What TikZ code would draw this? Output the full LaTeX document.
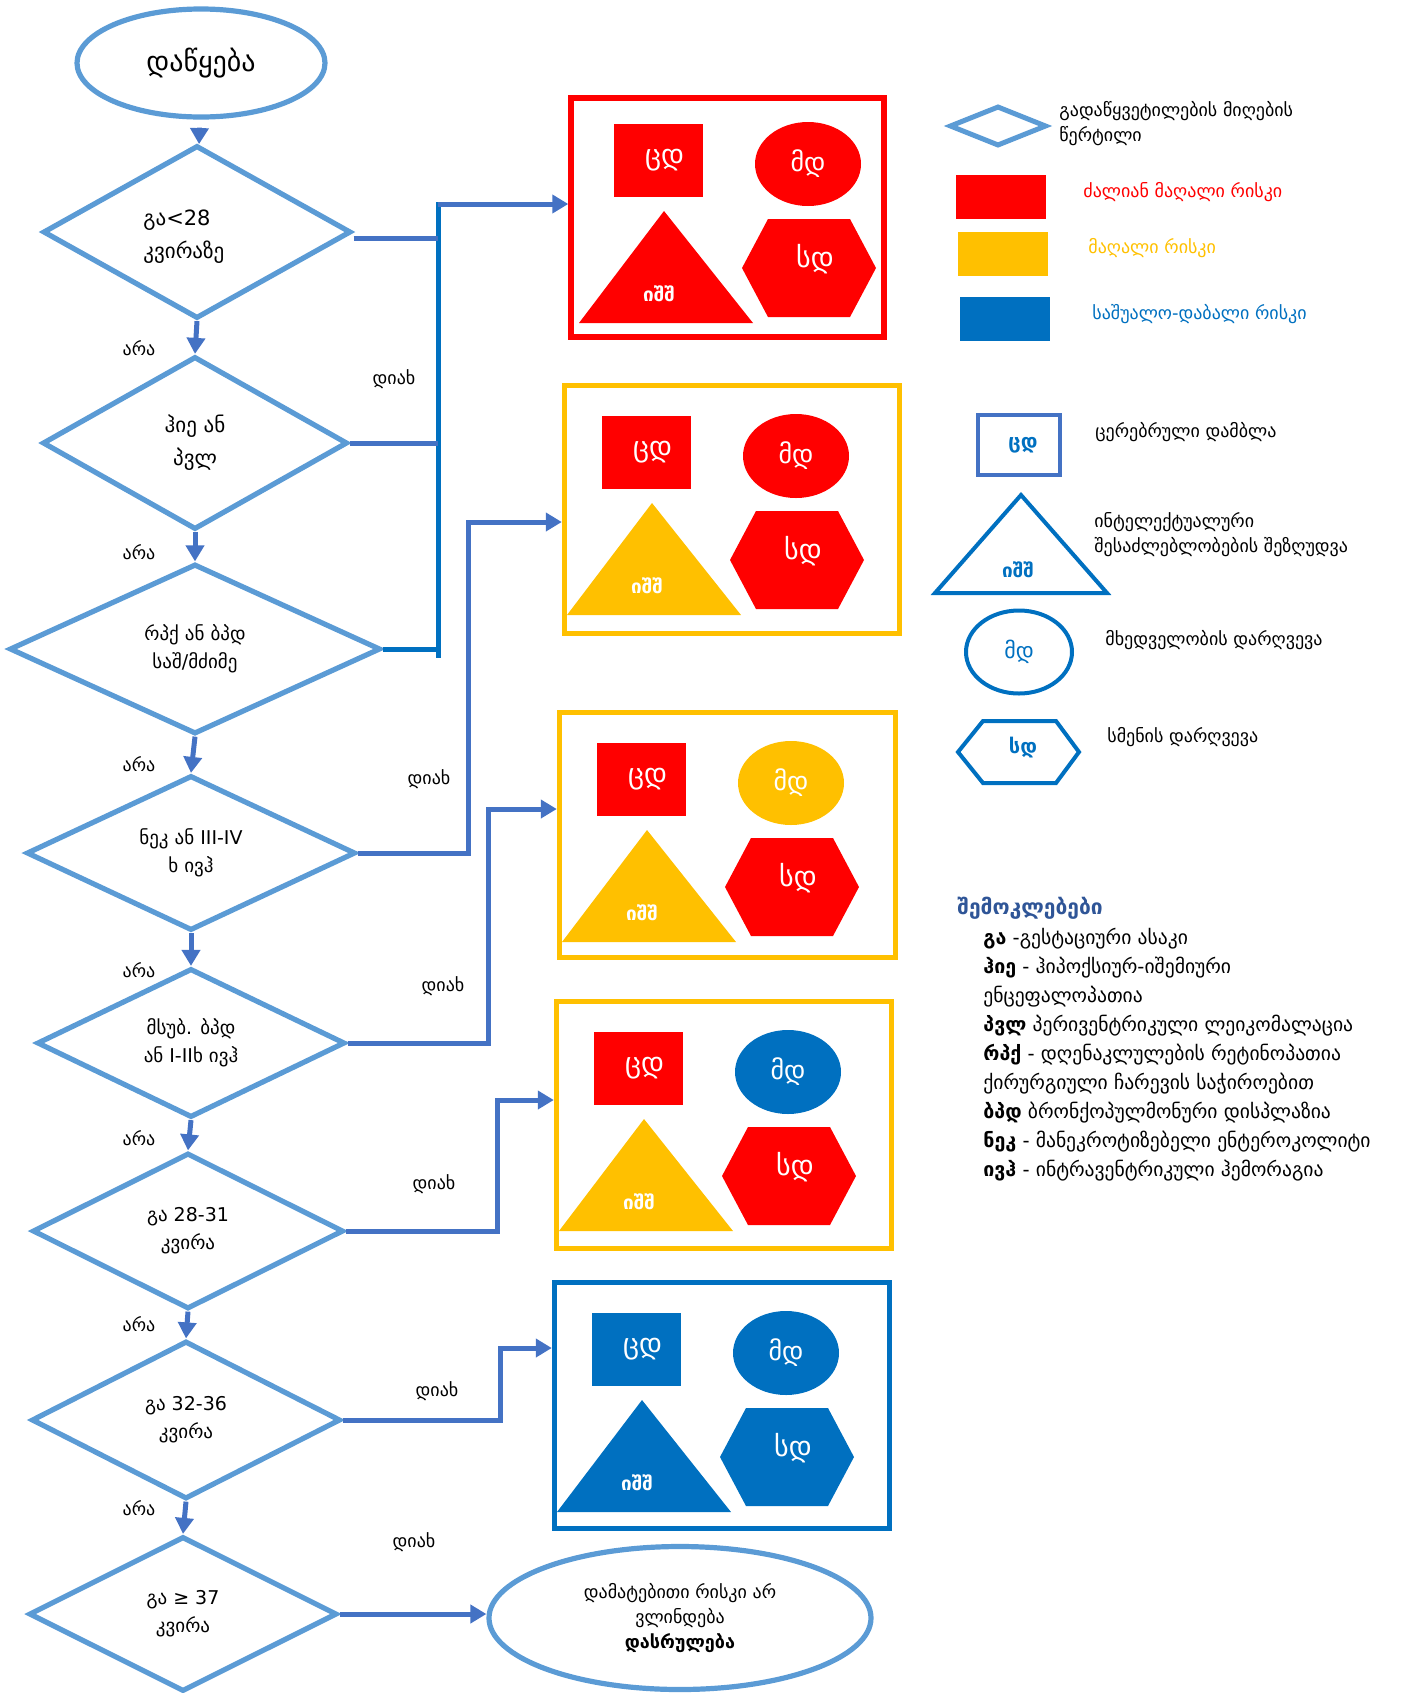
\documentclass[tikz,border=0pt]{standalone}
\usepackage{fontspec}
\setmainfont{DejaVu Sans}
\usetikzlibrary{shapes.geometric,arrows.meta}

\definecolor{flowline}{HTML}{5B9BD5}
\definecolor{linkblue}{HTML}{4472C4}
\definecolor{busblue}{HTML}{0070C0}
\definecolor{riskred}{HTML}{FF0000}
\definecolor{riskgold}{HTML}{FFC000}
\definecolor{riskblue}{HTML}{0070C0}
\definecolor{headblue}{HTML}{2F5597}

\tikzset{
  decision/.style={diamond, draw=flowline, line width=2.6pt, inner sep=0pt,
    align=center, font=\fontsize{9.5}{14}\selectfont},
  terminal/.style={ellipse, draw=flowline, line width=2.6pt, inner sep=0pt, align=center},
  flow/.style={draw=linkblue, line width=2.5pt, -{Triangle[length=8pt,width=9pt]}},
  branch/.style={draw=linkblue, line width=2.5pt},
  answer/.style={font=\fontsize{9}{11}\selectfont},
  frame/.style={rectangle, draw, line width=2.7pt, inner sep=0pt},
  squaremark/.style={rectangle, inner sep=0pt, text=white, minimum width=44.5pt,
    minimum height=36.5pt, font=\fontsize{14}{14}\selectfont},
  ovalmark/.style={ellipse, inner sep=0pt, text=white, minimum width=53pt,
    minimum height=42pt, font=\fontsize{13}{13}\selectfont},
  marktext/.style={text=white, inner sep=0pt},
  legendtext/.style={anchor=west, inner sep=0pt, align=left, font=\fontsize{9}{12.5}\selectfont},
}

% contents of one risk panel: square, ellipse, triangle and hexagon
\newcommand{\riskpanel}[7]{%
  \begin{scope}[shift={(#2,#3)}]
    \node[squaremark, fill=#4] (#1sq) at (84.5,69.5) {\hspace*{6pt}ცდ};
    \node[ovalmark, fill=#5] (#1ov) at (234,73) {მდ};
    \fill[#6] (90,120) -- (179,232) -- (5,232) -- cycle;
    \node[marktext, font=\bfseries\fontsize{9.5}{10}\selectfont] (#1tr) at (85,203) {იშშ};
    \fill[#7] (194,128) -- (276,128) -- (302,177) -- (276,226) -- (194,226) -- (168,177) -- cycle;
    \node[marktext, font=\fontsize{14}{14}\selectfont] (#1hx) at (241,168) {სდ};
  \end{scope}}

\begin{document}
\begin{tikzpicture}[x=0.5pt,y=-0.5pt]
\useasboundingbox (0,0) rectangle (1416,1693);

% ---------- main flow ----------
\node[terminal, minimum width=124pt, minimum height=54pt, font=\fontsize{14}{16}\selectfont]
  (start) at (201,63) {დაწყება};

\node[decision, minimum width=154pt, minimum height=86.5pt] (d1) at (197,232) {};
\node[anchor=west, align=left, inner sep=0pt, font=\fontsize{10.5}{16.5}\selectfont]
  (d1text) at (143,237) {გა<28\\კვირაზე};
\node[decision, minimum width=152.5pt, minimum height=86.5pt, font=\fontsize{10.5}{16.5}\selectfont]
  (d2) at (195,443) {ჰიე ან\\პვლ};
\node[decision, minimum width=185.5pt, minimum height=85pt] (d3) at (195,649) {რპქ ან ბპდ\\საშ/მძიმე};
\node[decision, minimum width=164.5pt, minimum height=77.5pt] (d4) at (191,853) {ნეკ ან III-IV\\ხ ივჰ};
\node[decision, minimum width=154pt, minimum height=74.5pt] (d5) at (191,1043) {მსუბ. ბპდ\\ან I-IIხ ივჰ};
\node[decision, minimum width=155.5pt, minimum height=78pt] (d6) at (188,1231) {გა 28-31\\კვირა};
\node[decision, minimum width=154.5pt, minimum height=79pt] (d7) at (186,1420) {გა 32-36\\კვირა};
\node[decision, minimum width=154pt, minimum height=77.5pt] (d8) at (183,1614) {გა ≥ 37\\კვირა};

\node[terminal, minimum width=191pt, minimum height=71.5pt, font=\fontsize{9}{12.5}\selectfont]
  (finish) at (680,1618) {დამატებითი რისკი არ\\ვლინდება\\\textbf{დასრულება}};

\draw[flow, shorten <=4pt] (start) -- (d1);
\draw[flow] (d1.south) -- (d2.north);
\draw[flow] (d2.south) -- (d3.north);
\draw[flow] (d3.south) -- (d4.north);
\draw[flow] (d4.south) -- (d5.north);
\draw[flow] (d5.south) -- (d6.north);
\draw[flow] (d6.south) -- (d7.north);
\draw[flow] (d7.south) -- (d8.north);

\foreach \y [count=\i] in {348,552,764,970,1138,1324,1508}
  \node[answer] (no\i) at (139,\y) {არა};
\node[answer] (yes1) at (394,379) {დიახ};
\node[answer] (yes2) at (429,779) {დიახ};
\node[answer] (yes3) at (443,986) {დიახ};
\node[answer] (yes4) at (434,1184) {დიახ};
\node[answer] (yes5) at (437,1391) {დიახ};
\node[answer] (yes6) at (414,1542) {დიახ};

% ---------- risk panels ----------
\node[frame, draw=riskred, minimum width=156.5pt, minimum height=119.5pt] (box1) at (727.5,217.5) {};
\node[frame, draw=riskgold, minimum width=167.5pt, minimum height=124pt] (box2) at (732,509.5) {};
\node[frame, draw=riskgold, minimum width=168pt, minimum height=122.5pt] (box3) at (727.5,835) {};
\node[frame, draw=riskgold, minimum width=167.5pt, minimum height=123.5pt] (box4) at (724,1125) {};
\node[frame, draw=riskblue, minimum width=167.5pt, minimum height=123pt] (box5) at (722,1405.5) {};

\riskpanel{p1}{574}{91}{riskred}{riskred}{riskred}{riskred}
\riskpanel{p2}{562}{383}{riskred}{riskred}{riskgold}{riskred}
\riskpanel{p3}{557}{710}{riskred}{riskgold}{riskgold}{riskred}
\riskpanel{p4}{554}{999}{riskred}{riskblue}{riskgold}{riskred}
\riskpanel{p5}{552}{1280}{riskblue}{riskblue}{riskblue}{riskblue}

% ---------- "yes" branches ----------
\coordinate (bustop) at (438,204);
\coordinate (busbot) at (438,655);
\coordinate (d1out) at ([yshift=-3pt]d1.east);
\draw[branch, draw=busblue, line cap=rect] (bustop) -- (busbot);
\draw[branch] (d1out) -- (bustop |- d1out);
\draw[branch] (d2.east) -- (bustop |- d2.east);
\draw[branch, draw=busblue] (d3.east) -- (bustop |- d3.east);
\draw[flow] (bustop) -- (bustop -| box1.west);

\coordinate (j2) at (468,522);
\coordinate (j3) at (488,809);
\coordinate (j4) at (497,1100);
\coordinate (j5) at (500,1348);
\draw[flow] (d4.east) -| (j2) -- (j2 -| box2.west);
\draw[flow] (d5.east) -| (j3) -- (j3 -| box3.west);
\draw[flow] (d6.east) -| (j4) -- (j4 -| box4.west);
\draw[flow] (d7.east) -| (j5) -- (j5 -| box5.west);
\draw[flow] (d8.east) -- (d8.east -| finish.west);

% ---------- legend ----------
\node[diamond, draw=flowline, line width=2.5pt, inner sep=0pt, minimum width=48.5pt, minimum height=20pt]
  (keydec) at (998,126) {};
\node[legendtext] (keydectext) at (1059,124) {გადაწყვეტილების მიღების\\წერტილი};

\node[rectangle, fill=riskred, minimum width=45pt, minimum height=22pt] (keyred) at (1001,197) {};
\node[rectangle, fill=riskgold, minimum width=45pt, minimum height=22pt] (keygold) at (1003,254) {};
\node[rectangle, fill=riskblue, minimum width=45pt, minimum height=22pt] (keyblue) at (1005,319) {};
\node[legendtext, text=riskred] (keyredtext) at (1083,192) {ძალიან მაღალი რისკი};
\node[legendtext, text=riskgold] (keygoldtext) at (1088,248) {მაღალი რისკი};
\node[legendtext, text=riskblue] (keybluetext) at (1092,314) {საშუალო-დაბალი რისკი};

\node[rectangle, draw=linkblue, line width=2pt, minimum width=41pt, minimum height=30pt,
  text=riskblue, font=\bfseries\fontsize{10}{10}\selectfont] (keysq) at (1019,445) {\hspace*{4pt}ცდ};
\node[legendtext] (keysqtext) at (1095,432) {ცერებრული დამბლა};

\draw[draw=riskblue, line width=2pt] (1021,495) -- (1107,593) -- (935,593) -- cycle;
\node[text=riskblue, inner sep=0pt, font=\bfseries\fontsize{9.5}{10}\selectfont] (keytr) at (1018,570) {იშშ};
\node[legendtext] (keytrtext) at (1094,535) {ინტელექტუალური\\შესაძლებლობების შეზღუდვა};

\node[ellipse, draw=riskblue, line width=2pt, inner sep=0pt, minimum width=53pt, minimum height=41.5pt,
  text=riskblue, font=\fontsize{11}{11}\selectfont] (keyov) at (1019,652) {მდ};
\node[legendtext] (keyovtext) at (1105,640) {მხედველობის დარღვევა};

\draw[draw=riskblue, line width=2pt] (983,721) -- (1056,721) -- (1079,752) -- (1056,783) -- (983,783) -- (958,752) -- cycle;
\node[text=riskblue, inner sep=0pt, font=\bfseries\fontsize{10}{10}\selectfont] (keyhx) at (1023,748) {სდ};
\node[legendtext] (keyhxtext) at (1107,737) {სმენის დარღვევა};

% ---------- abbreviations ----------
\node[anchor=west, inner sep=0pt, text=headblue, font=\bfseries\fontsize{10.5}{12}\selectfont]
  (abbrhead) at (957,908) {შემოკლებები};
\node[anchor=north west, inner sep=0pt, align=left, font=\fontsize{9.8}{14.5}\selectfont]
  (abbrlist) at (983,928) {%
  \textbf{გა} -გესტაციური ასაკი\\
  \textbf{ჰიე} - ჰიპოქსიურ-იშემიური\\
  ენცეფალოპათია\\
  \textbf{პვლ} პერივენტრიკული ლეიკომალაცია\\
  \textbf{რპქ} - დღენაკლულების რეტინოპათია\\
  ქირურგიული ჩარევის საჭიროებით\\
  \textbf{ბპდ} ბრონქოპულმონური დისპლაზია\\
  \textbf{ნეკ} - მანეკროტიზებელი ენტეროკოლიტი\\
  \textbf{ივჰ} - ინტრავენტრიკული ჰემორაგია};

\end{tikzpicture}
\end{document}
